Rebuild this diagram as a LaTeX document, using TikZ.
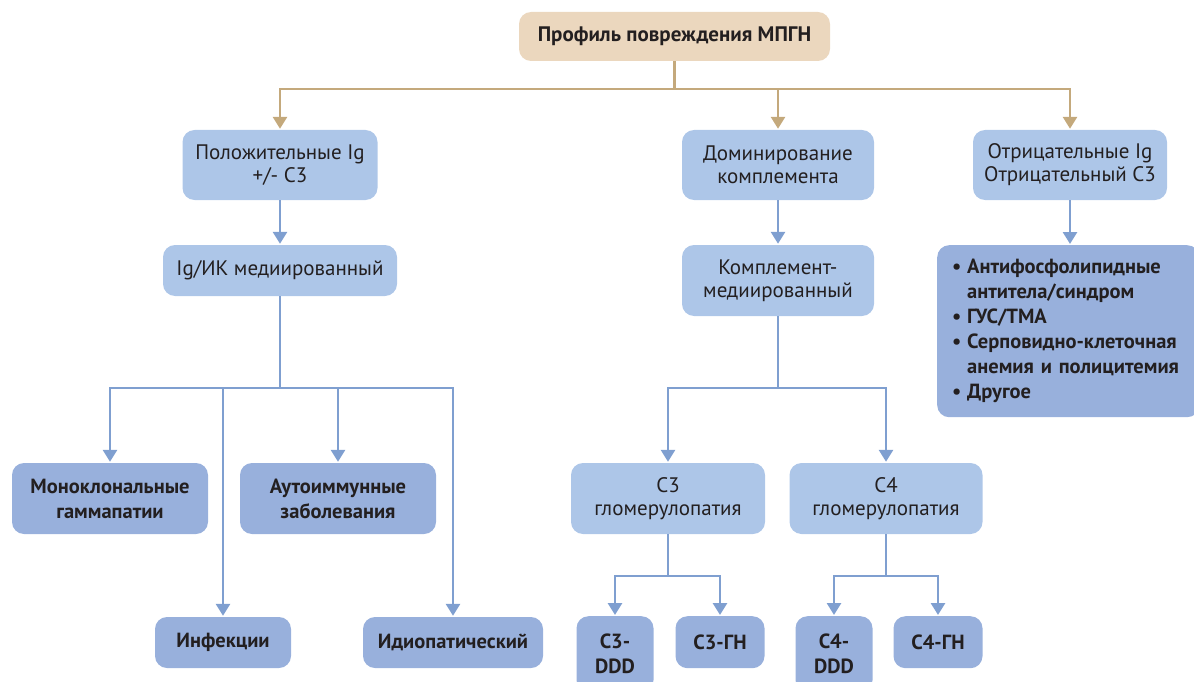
\documentclass[tikz,border=0pt]{standalone}
\usepackage{fontspec}
\setmainfont{PT Sans}
\usetikzlibrary{arrows.meta}
\definecolor{beige}{HTML}{EBD7BE}
\definecolor{tanline}{HTML}{C4A97C}
\definecolor{lightblue}{HTML}{ADC6E8}
\definecolor{midblue}{HTML}{98B0DC}
\definecolor{linkblue}{HTML}{7F9FD0}
\definecolor{ink}{HTML}{231F20}
\tikzset{
  box/.style={rounded corners=12pt, align=center, text=ink, inner sep=0pt,
    font=\fontsize{21}{23}\selectfont},
  soft/.style={box, fill=lightblue},
  firm/.style={box, fill=midblue, font=\fontsize{20.5}{25}\selectfont\bfseries},
  head/.style={box, fill=beige, font=\fontsize{21}{23}\selectfont\bfseries},
  tanarrow/.style={draw=tanline, line width=2.8pt, -{Triangle[width=14pt,length=12pt]}, shorten >=1pt},
  bluearrow/.style={draw=linkblue, line width=2.8pt, -{Triangle[width=14pt,length=12pt]}, shorten >=1pt},
}
\begin{document}
\begin{tikzpicture}[x=1pt, y=-1pt]
\useasboundingbox (0,0) rectangle (1194,682);

\node[head, minimum width=311pt, minimum height=49pt] (profile) at (674.5,36.5) {Профиль повреждения МПГН};

\node[soft, minimum width=195pt, minimum height=70pt] (posig) at (280,165) {Положительные Ig\\+/- C3};
\node[soft, minimum width=192pt, minimum height=70pt] (domin) at (778,165) {Доминирование\\комплемента};
\node[soft, minimum width=194pt, minimum height=70pt] (negig) at (1070,165) {Отрицательные Ig\\Отрицательный C3};

\node[soft, minimum width=234pt, minimum height=51pt] (igik) at (280,270.5) {Ig/ИК медиированный};
\node[soft, minimum width=192pt, minimum height=71pt] (compl) at (778,280.5) {Комплемент-\\медиированный};
\node[firm, anchor=north west, align=left, text width=232pt, inner xsep=15pt,
      minimum height=172pt] (other) at (937,245)
  {\makebox[15pt][l]{•}Антифосфолипидные\\\hspace*{15pt}антитела/синдром\\
   \makebox[15pt][l]{•}ГУС/ТМА\\
   \makebox[15pt][l]{•}Серповидно-клеточная\\\hspace*{15pt}анемия и полицитемия\\
   \makebox[15pt][l]{•}Другое};

\node[firm, minimum width=196pt, minimum height=71pt] (mono) at (110,498.5) {Моноклональные\\гаммапатии};
\node[firm, minimum width=196pt, minimum height=71pt] (auto) at (338,498.5) {Аутоиммунные\\заболевания};
\node[firm, minimum width=136pt, minimum height=51pt] (infect) at (223,642.5) {Инфекции};
\node[firm, minimum width=180pt, minimum height=51pt] (idio) at (453,642.5) {Идиопатический};

\node[soft, minimum width=194pt, minimum height=71pt] (cthree) at (668,498.5) {C3\\гломерулопатия};
\node[soft, minimum width=193pt, minimum height=71pt] (cfour) at (886,498.5) {C4\\гломерулопатия};

\node[firm, minimum width=77pt, minimum height=76pt, anchor=north] (cthreeddd) at (615,616) {C3-\\DDD};
\node[firm, minimum width=89pt, minimum height=52pt, anchor=north] (cthreegn) at (720,616) {C3-ГН};
\node[firm, minimum width=77pt, minimum height=76pt, anchor=north] (cfourddd) at (834,616) {C4-\\DDD};
\node[firm, minimum width=89pt, minimum height=52pt, anchor=north] (cfourgn) at (938,616) {C4-ГН};

% bus points
\coordinate (topbus) at (674.5,89);
\coordinate (leftbus) at (280,388);
\coordinate (midbus) at (778,388);
\coordinate (cthreebus) at (668,576);
\coordinate (cfourbus) at (886,576);

\draw[draw=tanline, line width=2.8pt] (profile) -- (topbus);
\draw[tanarrow] (topbus) -| (posig);
\draw[tanarrow] (topbus) -| (domin);
\draw[tanarrow] (topbus) -| (negig);

\draw[bluearrow] (posig) -- (igik);
\draw[bluearrow] (domin) -- (compl);
\draw[bluearrow] (negig) -- (negig |- other.north);

\draw[draw=linkblue, line width=2.8pt] (igik) -- (leftbus);
\draw[bluearrow] (leftbus) -| (mono);
\draw[bluearrow] (leftbus) -| (infect);
\draw[bluearrow] (leftbus) -| (auto);
\draw[bluearrow] (leftbus) -| (idio);

\draw[draw=linkblue, line width=2.8pt] (compl) -- (midbus);
\draw[bluearrow] (midbus) -| (cthree);
\draw[bluearrow] (midbus) -| (cfour);

\draw[draw=linkblue, line width=2.8pt] (cthree) -- (cthreebus);
\draw[bluearrow] (cthreebus) -| (cthreeddd);
\draw[bluearrow] (cthreebus) -| (cthreegn);
\draw[draw=linkblue, line width=2.8pt] (cfour) -- (cfourbus);
\draw[bluearrow] (cfourbus) -| (cfourddd);
\draw[bluearrow] (cfourbus) -| (cfourgn);
\end{tikzpicture}
\end{document}
